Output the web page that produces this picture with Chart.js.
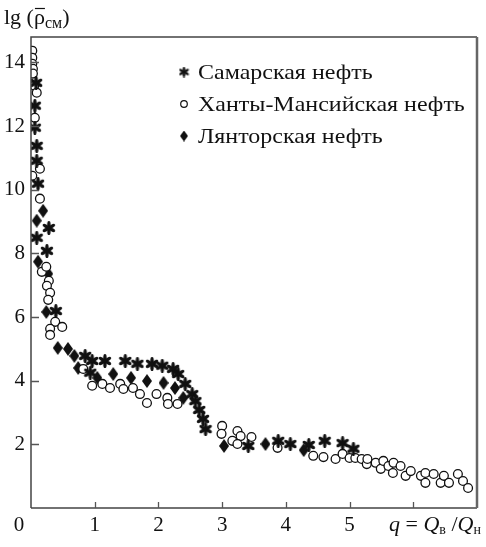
<!DOCTYPE html>
<html>
<head>
<meta charset="utf-8">
<script src="https://cdn.jsdelivr.net/npm/chart.js@4/dist/chart.umd.min.js"></script>
<style>
  html, body { margin: 0; padding: 0; background: #fff; }
  #wrap { width: 486px; height: 547px; position: relative; }
</style>
</head>
<body>
<div id="wrap"><canvas id="chart" width="486" height="547"></canvas></div>
<script>
// series names (legend order)
const seriesNames = ['Самарская нефть', 'Ханты-Мансийская нефть', 'Лянторская нефть'];

// Самарская нефть (stars)
const samaraX = [0.08, 0.06, 0.06, 0.09, 0.09, 0.11, 0.28, 0.09, 0.25, 0.39, 0.85, 0.96, 0.93, 1.16, 1.48, 1.67, 1.90, 2.06, 2.23, 2.31, 2.42, 2.53, 2.58, 2.64, 2.70, 2.74, 3.41, 3.88, 4.07, 4.36, 4.61, 4.89, 5.06];
const samaraY = [13.36, 12.64, 11.95, 11.38, 10.91, 10.19, 8.8, 8.49, 8.08, 6.19, 4.78, 4.62, 4.25, 4.62, 4.62, 4.53, 4.53, 4.47, 4.37, 4.21, 3.9, 3.58, 3.36, 3.08, 2.8, 2.48, 1.95, 2.11, 2.01, 1.98, 2.11, 2.04, 1.86];

// Ханты-Мансийская нефть (open circles)
const khantyX = [0.02, 0.02, 0.02, 0.03, 0.03, 0.05, 0.09, 0.06, 0.14, 0.02, 0.14, 0.17, 0.24, 0.28, 0.25, 0.30, 0.27, 0.38, 0.49, 0.30, 0.30, 0.82, 0.96, 1.12, 1.24, 1.40, 1.45, 1.60, 1.71, 1.82, 1.97, 2.14, 2.15, 2.30, 3.0, 2.99, 3.16, 3.24, 3.29, 3.24, 3.46, 3.87, 4.43, 4.59, 4.78, 4.89, 5.0, 5.09, 5.19, 5.27, 5.28, 5.41, 5.49, 5.53, 5.61, 5.68, 5.69, 5.8, 5.88, 5.96, 6.12, 6.19, 6.19, 6.32, 6.43, 6.48, 6.56, 6.7, 6.78, 6.86];
const khantyY = [14.37, 14.15, 13.96, 13.8, 13.65, 13.27, 13.05, 12.26, 10.66, 10.44, 9.72, 7.42, 7.58, 7.14, 6.98, 6.76, 6.54, 5.85, 5.69, 5.63, 5.44, 4.37, 3.84, 3.9, 3.77, 3.9, 3.74, 3.77, 3.58, 3.3, 3.58, 3.46, 3.27, 3.27, 2.58, 2.33, 2.11, 2.42, 2.26, 2.01, 2.23, 1.89, 1.64, 1.6, 1.54, 1.7, 1.57, 1.57, 1.54, 1.38, 1.54, 1.42, 1.23, 1.48, 1.32, 1.1, 1.42, 1.32, 1.01, 1.16, 1.01, 1.1, 0.79, 1.07, 0.79, 1.01, 0.79, 1.07, 0.85, 0.63];

// Лянторская нефть (filled diamonds)
const lyantorX = [0.09, 0.19, 0.11, 0.27, 0.24, 0.42, 0.58, 0.68, 0.74, 1.04, 1.29, 1.57, 1.82, 2.08, 2.26, 2.39, 3.03, 3.68, 4.28];
const lyantorY = [9.03, 9.34, 7.74, 7.36, 6.16, 5.03, 5.0, 4.78, 4.4, 4.09, 4.21, 4.09, 3.99, 3.93, 3.77, 3.46, 1.95, 2.01, 1.82];

// ticks: marks at 1..6 on x, labels only up to 5 (the axis title sits where 6 would be)
const xTickMarks = [1, 2, 3, 4, 5, 6];
const xTickLabels = [1, 2, 3, 4, 5];
const yTickLabels = [2, 4, 6, 8, 10, 12, 14];

const SERIF = '"Liberation Serif", "DejaVu Serif", serif';
const INK = '#111';

const toPoints = (xs, ys) => xs.map((x, i) => ({ x: x, y: ys[i] }));

// asterisk marker, six teardrop arms
const makeStar = (size, fat) => {
    const c = document.createElement('canvas');
    c.width = size; c.height = size;
    const g = c.getContext('2d');
    const r = size / 2;
    g.translate(r, r);
    g.fillStyle = INK;
    for (let k = 0; k < 6; k++) {
        g.save();
        g.rotate(-Math.PI / 2 + k * Math.PI / 3);
        g.beginPath();
        g.ellipse(r * 0.52, 0, r * 0.48, r * fat, 0, 0, Math.PI * 2);
        g.fill();
        g.restore();
    }
    g.beginPath();
    g.arc(0, 0, r * 0.22, 0, Math.PI * 2);
    g.fill();
    return c;
};

const makeDiamond = (w, h) => {
    const c = document.createElement('canvas');
    c.width = w; c.height = h;
    const g = c.getContext('2d');
    g.fillStyle = INK;
    g.beginPath();
    g.moveTo(w / 2, 0);
    g.lineTo(w, h / 2);
    g.lineTo(w / 2, h);
    g.lineTo(0, h / 2);
    g.closePath();
    g.fill();
    return c;
};

const starImg = makeStar(14, 0.24);
const diamondImg = makeDiamond(10, 14);
const starSmall = makeStar(11, 0.24);
const diamondSmall = makeDiamond(8, 11);

// frame, inward ticks, the corner "0", titles and legend
const decorPlugin = {
    id: 'decor',
    afterDraw(chart) {
        const ctx = chart.ctx;
        const a = chart.chartArea;
        const xs = chart.scales.x, ys = chart.scales.y;
        ctx.save();

        // frame
        ctx.strokeStyle = '#444';
        ctx.lineWidth = 1.5;
        ctx.beginPath();
        ctx.moveTo(a.left, a.bottom);
        ctx.lineTo(a.left, a.top);
        ctx.lineTo(a.right, a.top);
        ctx.moveTo(a.left, a.bottom);
        ctx.lineTo(a.right, a.bottom);
        ctx.stroke();
        ctx.strokeStyle = '#666';
        ctx.lineWidth = 2.5;
        ctx.beginPath();
        ctx.moveTo(a.right, a.top);
        ctx.lineTo(a.right, a.bottom);
        ctx.stroke();

        // inward ticks
        ctx.strokeStyle = '#555';
        ctx.lineWidth = 1.3;
        ctx.beginPath();
        xTickMarks.forEach(v => {
            const px = Math.round(xs.getPixelForValue(v)) + 0.5;
            ctx.moveTo(px, a.bottom);
            ctx.lineTo(px, a.bottom - 6);
        });
        yTickLabels.forEach(v => {
            const py = Math.round(ys.getPixelForValue(v)) + 0.5;
            ctx.moveTo(a.left, py);
            ctx.lineTo(a.left + 8, py);
        });
        ctx.stroke();

        ctx.fillStyle = INK;
        ctx.textBaseline = 'alphabetic';

        // origin label
        ctx.font = '21px ' + SERIF;
        ctx.textAlign = 'center';
        ctx.fillText('0', 19, 531);

        // x axis title: q = Qв/Qн
        ctx.textAlign = 'left';
        let x = 389;
        const bx = 531;
        const part = (t, font, dy) => {
            ctx.font = font;
            ctx.fillText(t, x, bx + (dy || 0));
            x += ctx.measureText(t).width;
        };
        part('q', 'italic 22px ' + SERIF);
        part(' = ', '22px ' + SERIF);
        part('Q', 'italic 22px ' + SERIF);
        part('в', '14px ' + SERIF, 3);
        part(' /', '22px ' + SERIF);
        part('Q', 'italic 22px ' + SERIF);
        part('н', '14px ' + SERIF, 3);

        // y axis title: lg (ρ̄см)
        x = 4;
        const by = 24;
        const partY = (t, font, dy) => {
            ctx.font = font;
            ctx.fillText(t, x, by + (dy || 0));
            const w = ctx.measureText(t).width;
            x += w;
            return w;
        };
        partY('lg (', '22px ' + SERIF);
        const rx = x;
        const rw = partY('ρ', '22px ' + SERIF);
        ctx.lineWidth = 1.2;
        ctx.strokeStyle = INK;
        ctx.beginPath();
        ctx.moveTo(rx + 1, by - 15.5);
        ctx.lineTo(rx + rw, by - 15.5);
        ctx.stroke();
        partY('см', '16px ' + SERIF, 4);
        partY(')', '22px ' + SERIF);

        // legend
        const legendY = [72, 104, 136];
        const symX = 184;
        seriesNames.forEach((name, i) => {
            const y = legendY[i];
            if (i === 0) {
                ctx.drawImage(starSmall, symX - 5.5, y - 5.5);
            } else if (i === 1) {
                ctx.beginPath();
                ctx.arc(symX, y, 3.3, 0, Math.PI * 2);
                ctx.fillStyle = '#fff';
                ctx.fill();
                ctx.lineWidth = 1.2;
                ctx.stroke();
                ctx.fillStyle = INK;
            } else {
                ctx.drawImage(diamondSmall, symX - 4, y - 5.5);
            }
            ctx.save();
            ctx.font = '22px ' + SERIF;
            ctx.textBaseline = 'middle';
            ctx.translate(198, y + 1);
            ctx.scale(1.09, 1);
            ctx.fillText(name, 0, 0);
            ctx.restore();
        });

        ctx.restore();
    }
};

new Chart(document.getElementById('chart'), {
    type: 'scatter',
    data: {
        datasets: [
            {
                label: seriesNames[0],
                data: toPoints(samaraX, samaraY),
                pointStyle: starImg,
                pointRadius: 7
            },
            {
                label: seriesNames[1],
                data: toPoints(khantyX, khantyY),
                pointStyle: 'circle',
                pointRadius: 4.4,
                borderWidth: 1.3,
                borderColor: INK,
                backgroundColor: '#fff'
            },
            {
                label: seriesNames[2],
                data: toPoints(lyantorX, lyantorY),
                pointStyle: diamondImg,
                pointRadius: 7
            }
        ]
    },
    options: {
        responsive: false,
        animation: false,
        layout: { padding: { top: 37, right: 9, left: 0, bottom: 0 } },
        plugins: {
            legend: { display: false },
            tooltip: { enabled: false }
        },
        scales: {
            x: {
                type: 'linear',
                min: 0,
                max: 7,
                afterFit: (s) => { s.height = 39; },
                afterBuildTicks: (s) => { s.ticks = xTickLabels.map(v => ({ value: v })); },
                grid: { display: false, drawTicks: false },
                border: { display: false },
                ticks: {
                    padding: 5,
                    color: INK,
                    font: { family: SERIF, size: 21 },
                    callback: (v) => xTickLabels.includes(v) ? String(v) : ''
                }
            },
            y: {
                type: 'linear',
                min: 0,
                max: 14.8,
                afterFit: (s) => { s.width = 31; },
                afterBuildTicks: (s) => { s.ticks = yTickLabels.map(v => ({ value: v })); },
                grid: { display: false, drawTicks: false },
                border: { display: false },
                ticks: {
                    padding: 6,
                    color: INK,
                    font: { family: SERIF, size: 21 },
                    callback: (v) => yTickLabels.includes(v) ? String(v) : ''
                }
            }
        }
    },
    plugins: [decorPlugin]
});
</script>
</body>
</html>
